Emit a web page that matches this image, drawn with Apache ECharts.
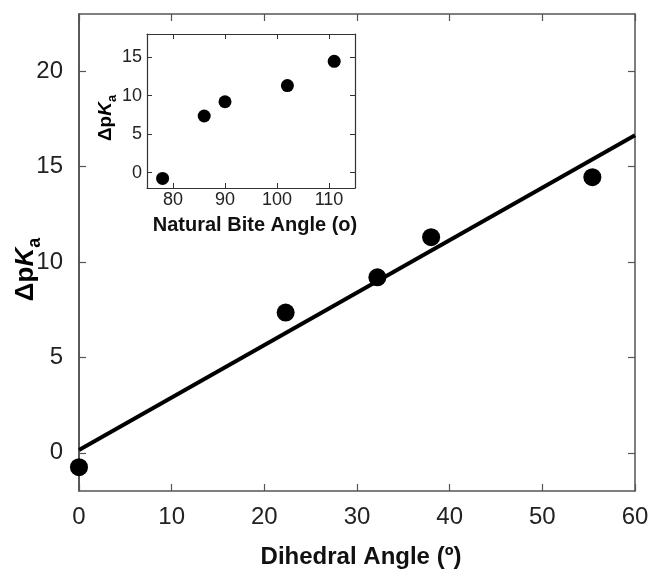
<!DOCTYPE html>
<html>
<head>
<meta charset="utf-8">
<script src="https://cdn.jsdelivr.net/npm/echarts@6/dist/echarts.min.js"></script>
<style>
  html, body { margin: 0; padding: 0; background: #fff; }
  #chart { width: 652px; height: 571px; }
</style>
</head>
<body>
<div id="chart"></div>
<script>
// Dihedral angle (deg) of each ligand and its ΔpKa
const dihedralAngle = [0, 22.3, 32.2, 38.0, 55.4];
const deltaPKa = [-0.75, 7.35, 9.2, 11.3, 14.45];
// Natural bite angle (deg) of the same ligands (inset)
const biteAngle = [78, 86, 90, 102, 111];
// Linear fit through the main data set
const fitX = [0, 60];
const fitY = [0.15, 16.65];
// Tick values
const mainYTicks = [0, 5, 10, 15, 20];
const insetXTicks = [80, 90, 100, 110];
const insetYTicks = [0, 5, 10, 15];

const FONT = '"Liberation Sans", Arial, sans-serif';
const frameColor = '#555';

function pKaRich(size) {
  return {
    b: { fontFamily: FONT, fontWeight: 'bold', fontSize: size, color: '#000', verticalAlign: 'top', lineHeight: size + 2 },
    k: { fontFamily: FONT, fontWeight: 'bold', fontStyle: 'italic', fontSize: size, color: '#000', verticalAlign: 'top', lineHeight: size + 2 },
    s: { fontFamily: FONT, fontWeight: 'bold', fontSize: Math.round(size * 0.68), color: '#000', verticalAlign: 'top', lineHeight: size + 2, padding: [Math.round(size * 0.5), 0, 0, 0] }
  };
}

function frameAxis(extra) {
  const base = {
    type: 'value',
    nameMoveOverlap: false,
    axisLine: { show: true, lineStyle: { color: frameColor, width: 1.5 } },
    splitLine: { show: false },
    axisLabel: { show: false },
    axisTick: { show: true, inside: true, length: 7, lineStyle: { color: frameColor, width: 1.2 } }
  };
  const out = Object.assign(base, extra);
  out.axisLine = Object.assign({}, out.axisLine, { onZero: false });
  return out;
}

const pairsMain = dihedralAngle.map((x, i) => [x, deltaPKa[i]]);
const pairsInset = biteAngle.map((x, i) => [x, deltaPKa[i]]);
const pairsFit = fitX.map((x, i) => [x, fitY[i]]);

const chart = echarts.init(document.getElementById('chart'), null, { renderer: 'canvas' });
chart.setOption({
  animation: false,
  backgroundColor: '#fff',
  grid: [
    { left: 79, top: 14, right: 17, bottom: 80, containLabel: false, outerBoundsMode: 'none' },
    { left: 147, top: 34, width: 208, height: 154, show: true, backgroundColor: '#fff', borderWidth: 0, z: 5, containLabel: false, outerBoundsMode: 'none' }
  ],
  xAxis: [
    frameAxis({
      gridIndex: 0, position: 'bottom', min: 0, max: 60, interval: 10,
      axisLabel: { show: true, fontFamily: FONT, fontSize: 24, color: '#222', margin: 14 },
      name: 'Dihedral Angle (º)', nameLocation: 'middle', nameGap: 54,
      nameTextStyle: { fontFamily: FONT, fontWeight: 'bold', fontSize: 24, color: '#111', padding: [0, 0, 0, 8] }
    }),
    frameAxis({ gridIndex: 0, position: 'top', min: 0, max: 60, interval: 10 }),
    frameAxis({
      gridIndex: 1, position: 'bottom', min: 75, max: 115, z: 6,
      axisTick: { show: true, inside: true, length: 5, customValues: insetXTicks, lineStyle: { color: '#333', width: 1 } },
      axisLine: { show: true, lineStyle: { color: '#333', width: 1.2 } },
      axisLabel: { show: true, customValues: insetXTicks, fontFamily: FONT, fontSize: 18, color: '#222', margin: 3 },
      name: 'Natural Bite Angle (o)', nameLocation: 'middle', nameGap: 27,
      nameTextStyle: { fontFamily: FONT, fontWeight: 'bold', fontSize: 20, color: '#111', padding: [0, 0, 0, 8] }
    }),
    frameAxis({
      gridIndex: 1, position: 'top', min: 75, max: 115, z: 6,
      axisTick: { show: true, inside: true, length: 5, customValues: insetXTicks, lineStyle: { color: '#333', width: 1 } },
      axisLine: { show: true, lineStyle: { color: '#333', width: 1.2 } }
    })
  ],
  yAxis: [
    frameAxis({
      gridIndex: 0, position: 'left', min: -2, max: 23,
      axisLine: { show: true, lineStyle: { color: '#222', width: 1.5 } },
      axisTick: { show: true, inside: true, length: 7, customValues: mainYTicks, lineStyle: { color: frameColor, width: 1.2 } },
      axisLabel: { show: true, customValues: mainYTicks, fontFamily: FONT, fontSize: 24, color: '#222', margin: 16 },
      name: '{b|Δp}{k|K}{s|a}', nameLocation: 'middle', nameGap: 38, nameRotate: 90,
      nameTextStyle: { rich: pKaRich(26), padding: [0, 34, 0, 0] }
    }),
    frameAxis({
      gridIndex: 0, position: 'right', min: -2, max: 23,
      axisTick: { show: true, inside: true, length: 7, customValues: mainYTicks, lineStyle: { color: frameColor, width: 1.2 } }
    }),
    frameAxis({
      gridIndex: 1, position: 'left', min: -2, max: 18, z: 6,
      axisLine: { show: true, lineStyle: { color: '#333', width: 1.2 } },
      axisTick: { show: true, inside: true, length: 5, customValues: insetYTicks, lineStyle: { color: '#333', width: 1 } },
      axisLabel: { show: true, customValues: insetYTicks, fontFamily: FONT, fontSize: 18, color: '#222', margin: 5 },
      name: '{b|Δp}{k|K}{s|a}', nameLocation: 'middle', nameGap: 30, nameRotate: 90,
      nameTextStyle: { rich: pKaRich(19), padding: [0, 14, 0, 0] }
    }),
    frameAxis({
      gridIndex: 1, position: 'right', min: -2, max: 18, z: 6,
      axisLine: { show: true, lineStyle: { color: '#333', width: 1.2 } },
      axisTick: { show: true, inside: true, length: 5, customValues: insetYTicks, lineStyle: { color: '#333', width: 1 } }
    })
  ],
  series: [
    {
      type: 'line', xAxisIndex: 0, yAxisIndex: 0, data: pairsFit,
      showSymbol: false, lineStyle: { color: '#000', width: 4 }, z: 2
    },
    {
      type: 'scatter', xAxisIndex: 0, yAxisIndex: 0, data: pairsMain,
      symbol: 'circle', symbolSize: 18, itemStyle: { color: '#000', opacity: 1 }, z: 3
    },
    {
      type: 'scatter', xAxisIndex: 2, yAxisIndex: 2, data: pairsInset,
      symbol: 'circle', symbolSize: 13, itemStyle: { color: '#000', opacity: 1 }, z: 7
    }
  ]
});
</script>
</body>
</html>
